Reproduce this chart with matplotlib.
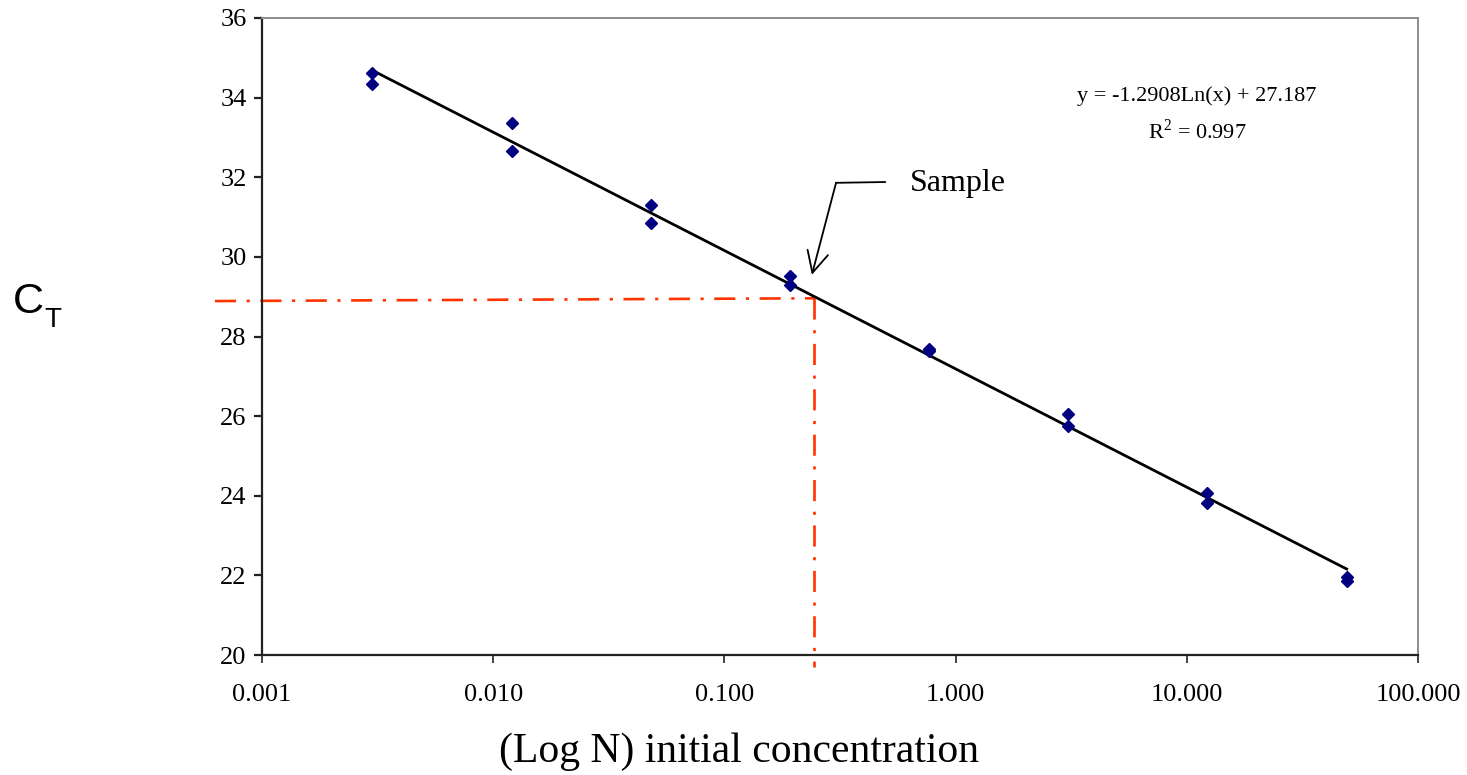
import numpy as np
import matplotlib
matplotlib.use("Agg")
import matplotlib.pyplot as plt
from matplotlib.ticker import FixedLocator, FixedFormatter, NullLocator

plt.rcParams['font.family'] = ['Liberation Serif', 'DejaVu Serif']
plt.rcParams['mathtext.fontset'] = 'custom'
plt.rcParams['mathtext.rm'] = 'Liberation Serif'

# standard curve, 4-fold dilutions, duplicates
conc = [0.003, 0.003, 0.012, 0.012, 0.048, 0.048, 0.192, 0.192,
        0.768, 0.768, 3.072, 3.072, 12.288, 12.288, 49.152, 49.152]
ct = [34.62, 34.34, 33.36, 32.66, 31.30, 30.85, 29.52, 29.29,
      27.69, 27.64, 26.05, 25.75, 24.07, 23.82, 21.96, 21.86]

# trendline y = a*ln(x) + b
slope = -1.2908
intercept = 27.187

# unknown sample
sample_x = 0.245
sample_ct = 28.93

xticks = [0.001, 0.01, 0.1, 1, 10, 100]
xticklabels = ['0.001', '0.010', '0.100', '1.000', '10.000', '100.000']
yticks = [20, 22, 24, 26, 28, 30, 32, 34, 36]

fig = plt.figure(figsize=(14.67, 7.75), dpi=100)
ax = fig.add_axes([262/1467, 120/775, 1156/1467, 637/775])

ax.set_xscale('log')
ax.set_xlim(0.001, 100)
ax.set_ylim(20, 36)

# trend line
fx = np.array([min(conc), max(conc)])
ax.plot(fx, slope*np.log(fx) + intercept, color='black', lw=2.0, zorder=3)

ax.plot(conc, ct, linestyle='none', marker='D', markersize=6.5,
        color='#000080', zorder=4)

# red dash-dot reading lines
red = '#ff3300'
dd = (0, (8, 4, 1.2, 4))
ax.plot([0.000626, sample_x], [sample_ct - 0.04, sample_ct + 0.03], color=red,
        lw=1.9, linestyle=dd, clip_on=False, zorder=2)
ax.plot([sample_x, sample_x], [sample_ct + 0.03, 19.7], color=red,
        lw=1.9, linestyle=dd, clip_on=False, zorder=2)

# annotation arrow
ax.plot([0.495, 0.304], [31.88, 31.86], color='black', lw=1.3)
ax.annotate('', xy=(0.239, 29.55), xytext=(0.304, 31.86),
            arrowprops=dict(arrowstyle='->', color='black', lw=1.3,
                            mutation_scale=38, shrinkA=0, shrinkB=0))
fig.text(910/1467, 1 - 183/775, 'Sample', fontsize=23, va='center', ha='left')

fig.text(1197/1467, 1 - 96/775, 'y = -1.2908Ln(x) + 27.187', fontsize=16,
         ha='center', va='center')
fig.text(1197/1467, 1 - 132/775, r'R$^{\mathregular{2}}$ = 0.997', fontsize=16,
         ha='center', va='center')

# axes styling
for s in ['left', 'bottom']:
    ax.spines[s].set_color('#222222')
    ax.spines[s].set_linewidth(1.6)
for s in ['top', 'right']:
    ax.spines[s].set_color('#8c8c8c')
    ax.spines[s].set_linewidth(1.4)

ax.xaxis.set_major_locator(FixedLocator(xticks))
ax.xaxis.set_major_formatter(FixedFormatter(xticklabels))
ax.xaxis.set_minor_locator(NullLocator())
ax.set_yticks(yticks)
ax.tick_params(axis='x', direction='out', length=6, width=1.2, pad=15,
               labelsize=19, color='#222222')
ax.tick_params(axis='y', direction='out', length=6, width=1.6, pad=5,
               labelsize=19, color='#222222')

fig.text(739/1467, 1 - 752/775, '(Log N) initial concentration', fontsize=30,
         ha='center', va='center')
fig.text(13/1467, 1 - 302/775, 'C', fontsize=31, family='Liberation Sans',
         ha='left', va='center')
fig.text(44/1467, 1 - 320/775, 'T', fontsize=20, family='Liberation Sans',
         ha='left', va='center')

fig.savefig('out.png', dpi=100)
